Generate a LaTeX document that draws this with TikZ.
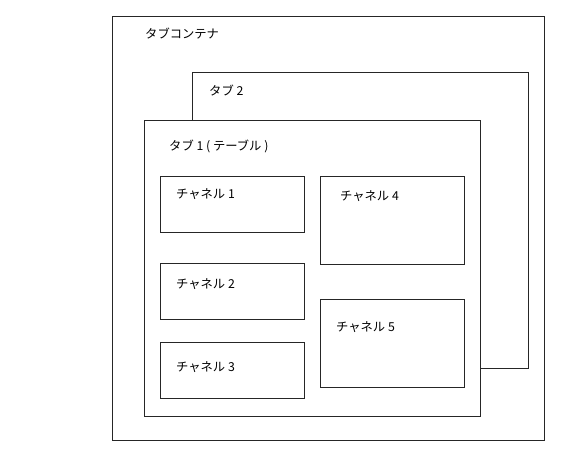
\documentclass[tikz,border=0pt]{standalone}
\usepackage{fontspec}
\setmainfont{Noto Sans CJK JP}
\begin{document}
\begin{tikzpicture}[x=1pt,y=-1pt,
  box/.style={draw=black!85,line width=0.9pt,fill=white,inner sep=0pt,anchor=north west},
  lbl/.style={anchor=west,inner sep=0pt,font=\fontsize{12.3}{14}\selectfont}]
\useasboundingbox (0,0) rectangle (584,458);
\node[box,minimum width=432pt,minimum height=424pt] (outer) at (112,16) {};
\node[box,minimum width=336pt,minimum height=296pt] (tab2) at (192,72) {};
\node[box,minimum width=336pt,minimum height=296pt] (tab1) at (144,120) {};
\node[box,minimum width=144pt,minimum height=56pt] (ch1) at (160,176) {};
\node[box,minimum width=144pt,minimum height=56pt] (ch2) at (160,263) {};
\node[box,minimum width=144pt,minimum height=56pt] (ch3) at (160,342) {};
\node[box,minimum width=144pt,minimum height=88pt] (ch4) at (320,176) {};
\node[box,minimum width=144pt,minimum height=88pt] (ch5) at (320,299) {};
\node[lbl] (louter) at (145,34) {タブコンテナ};
\node[lbl] (ltab2) at (209,90) {タブ 2};
\node[lbl] (ltab1) at (169,146) {タブ 1 ( テーブル )};
\node[lbl] (lch1) at (176,194) {チャネル 1};
\node[lbl] (lch2) at (176,284) {チャネル 2};
\node[lbl] (lch3) at (176,367) {チャネル 3};
\node[lbl] (lch4) at (340,196) {チャネル 4};
\node[lbl] (lch5) at (336,327) {チャネル 5};
\end{tikzpicture}
\end{document}
